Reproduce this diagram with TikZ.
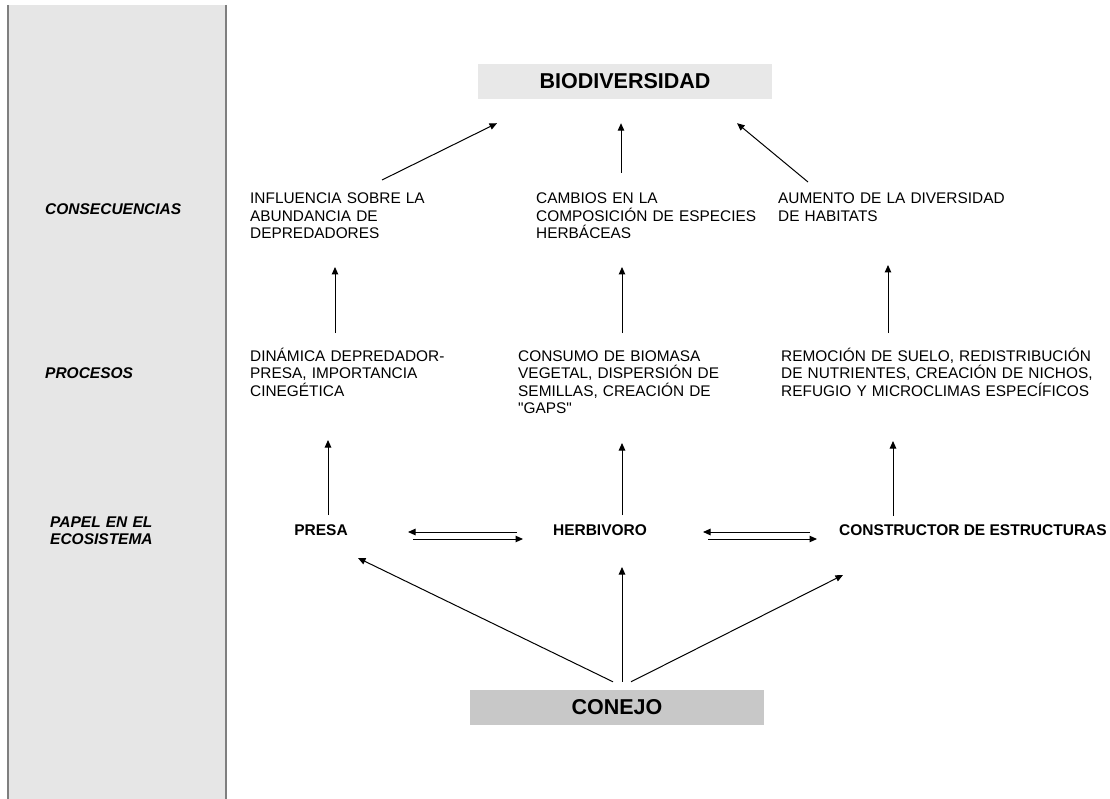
\documentclass[tikz,border=0pt]{standalone}
\usepackage{fontspec}
\setmainfont{Liberation Sans}[Ligatures=TeXOff]
\usetikzlibrary{arrows.meta,calc}
\definecolor{panel}{HTML}{E6E6E6}
\definecolor{panelline}{HTML}{7F7F7F}
\definecolor{biofill}{HTML}{E8E8E8}
\definecolor{conejofill}{HTML}{C8C8C8}
\tikzset{
  arr/.style={-{Triangle[length=7.5pt,width=6.5pt]},line width=1pt,black},
  body/.style={anchor=base west,inner sep=0pt,text width=340pt,align=left,
    font=\fontsize{15.4}{17.5}\selectfont},
  side/.style={anchor=base west,inner sep=0pt,text width=170pt,align=left,
    font=\fontsize{15.5}{17}\selectfont\bfseries\itshape},
  role/.style={anchor=base,inner sep=0pt,font=\fontsize{15.5}{17}\selectfont\bfseries},
  bigbox/.style={inner sep=0pt,minimum width=294pt,minimum height=35pt,
    font=\fontsize{21.5}{24}\selectfont\bfseries}
}
\begin{document}
\begin{tikzpicture}[x=1pt,y=-1pt]
\useasboundingbox (0,0) rectangle (1110,799);
% left panel
\fill[panel] (8,5) rectangle (226,799);
\draw[panelline,line width=1.2pt] (8,5) -- (8,799) (226,5) -- (226,799);
\node[side] (lc) at (45,215) {CONSECUENCIAS};
\node[side] (lp) at (45,378) {PROCESOS};
\node[side] (le) at (50,527) {PAPEL EN EL\\ECOSISTEMA};
% top and bottom boxes
\node[bigbox,fill=biofill] (bio) at (625,81.5) {BIODIVERSIDAD};
\node[bigbox,fill=conejofill] (con) at (617,707.5) {CONEJO};
% consequences
\node[body] (c1) at (250,204) {INFLUENCIA SOBRE LA\\ABUNDANCIA DE\\DEPREDADORES};
\node[body] (c2) at (536,204) {CAMBIOS EN LA\\COMPOSICIÓN DE ESPECIES\\HERBÁCEAS};
\node[body] (c3) at (778,204) {AUMENTO DE LA DIVERSIDAD\\DE HABITATS};
% processes
\node[body] (p1) at (250,361) {DINÁMICA DEPREDADOR-\\PRESA, IMPORTANCIA\\CINEGÉTICA};
\node[body] (p2) at (518,361) {CONSUMO DE BIOMASA\\VEGETAL, DISPERSIÓN DE\\SEMILLAS, CREACIÓN DE\\"GAPS"};
\node[body] (p3) at (781,361) {REMOCIÓN DE SUELO, REDISTRIBUCIÓN\\DE NUTRIENTES, CREACIÓN DE NICHOS,\\REFUGIO Y MICROCLIMAS ESPECÍFICOS};
% roles
\node[role] (r1) at (321,535) {PRESA};
\node[role] (r2) at (600,535) {HERBIVORO};
\node[role] (r3) at (973,535) {CONSTRUCTOR DE ESTRUCTURAS};
% consequences -> biodiversidad
\draw[arr] ($(c1.base west)+(132,-24)$) -- ($(bio.south)+(-128,24)$);
\draw[arr] ($(c2.base west)+(85,-31)$) -- ($(bio.south)+(-4,24)$);
\draw[arr] ($(c3.base west)+(30,-22)$) -- ($(bio.south)+(112,24)$);
% processes -> consequences
\draw[arr] ($(p1.base west)+(85,-28)$) -- ($(c1.base west)+(85,63)$);
\draw[arr] ($(p2.base west)+(104,-28)$) -- ($(c2.base west)+(86,63)$);
\draw[arr] ($(p3.base west)+(107,-28)$) -- ($(c3.base west)+(110,61)$);
% roles -> processes
\draw[arr] ($(r1.base)+(7,-20)$) -- ($(p1.base west)+(78,79)$);
\draw[arr] ($(r2.base)+(22,-20)$) -- ($(p2.base west)+(104,82)$);
\draw[arr] ($(r3.base)+(-80,-19)$) -- ($(p3.base west)+(112,80)$);
% double arrows between roles
\draw[arr] ($(r2.base)+(-83,-3)$) -- ($(r1.base)+(87,-3)$);
\draw[arr] ($(r1.base)+(92,4)$) -- ($(r2.base)+(-77,4)$);
\draw[arr] ($(r3.base)+(-163,-3)$) -- ($(r2.base)+(103,-3)$);
\draw[arr] ($(r2.base)+(108,4)$) -- ($(r3.base)+(-156,4)$);
% conejo -> roles
\draw[arr] ($(con.north)+(-4,-8)$) -- ($(r1.base)+(37,23)$);
\draw[arr] ($(con.north)+(5,-8)$) -- ($(r2.base)+(22,32)$);
\draw[arr] ($(con.north)+(14,-8)$) -- ($(r3.base)+(-130,40)$);
\end{tikzpicture}
\end{document}
